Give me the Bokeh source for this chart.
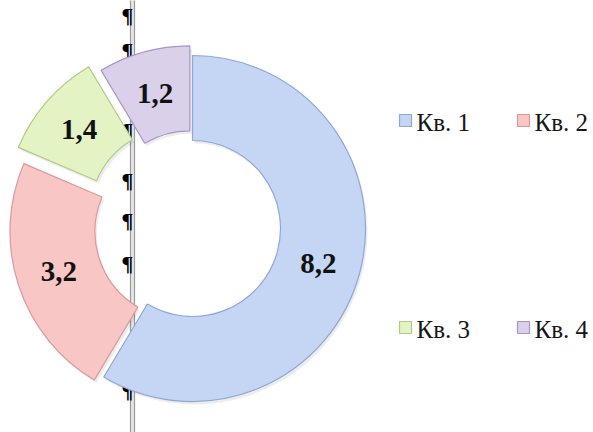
import numpy as np
from bokeh.plotting import figure
from bokeh.models import Range1d, ColumnDataSource
from bokeh.core.properties import value
from bokeh.embed import file_html
from bokeh.resources import INLINE

# ---- data ----
categories = ["Кв. 1", "Кв. 2", "Кв. 3", "Кв. 4"]
values = [8.2, 3.2, 1.4, 1.2]
labels = ["8,2", "3,2", "1,4", "1,2"]

# ---- style ----
fills = ["#c4d6f4", "#f9c6c6", "#e4f3c4", "#dad0ea"]
lines = ["#8ca7d8", "#d89a9a", "#b0cb85", "#a696c8"]
explode = [0, 10, 20, 10]
R_OUT, R_IN = 173, 88

W, H = 593, 432
cx, cy = 192, 228  # donut centre, px from figure's top-left

p = figure(width=W, height=H, x_range=Range1d(-cx, W - cx), y_range=Range1d(-(H - cy), cy),
           output_backend="svg", toolbar_location=None, min_border=0,
           x_axis_location=None, y_axis_location=None)
p.grid.visible = False
p.outline_line_color = None
p.background_fill_color = "white"

# ---- word-processor artifacts (paragraph marks & column line) behind the chart ----
lx = -60
p.quad(left=[lx - 2], right=[lx + 2], bottom=[-H], top=[H], fill_color="#e6e6e6", line_color=None)
p.segment(x0=[lx - 2, lx + 2], y0=[-H, -H], x1=[lx - 2, lx + 2], y1=[H, H], line_color="#9a9a9a", line_width=1.2)
pil_y = [213, 178, 98, 48, 8, -35, -162]
p.text(x=[lx - 5] * len(pil_y), y=pil_y, text=["¶"] * len(pil_y), text_font=value("Liberation Serif"),
       text_font_style="bold", text_font_size="22px", text_align="center", text_baseline="middle",
       text_color="black")

# ---- donut ----
vals = np.array(values)
total = vals.sum()
cum = np.concatenate([[0], np.cumsum(vals)])
start = np.deg2rad(90 - cum[:-1] / total * 360)
end = np.deg2rad(90 - cum[1:] / total * 360)
mid = (start + end) / 2
ex = np.array(explode)
xs = ex * np.cos(mid)
ys = ex * np.sin(mid)

src = ColumnDataSource(dict(x=xs, y=ys, sx=xs + 2, sy=ys - 3, start=start, end=end, fill=fills, line=lines,
                            lx=xs + (R_IN + R_OUT) / 2 * np.cos(mid),
                            ly=ys + (R_IN + R_OUT) / 2 * np.sin(mid), label=labels))
# soft shadow
p.annular_wedge(x="sx", y="sy", inner_radius=R_IN, outer_radius=R_OUT, start_angle="start",
                end_angle="end", direction="clock", source=src, fill_color="#000000", fill_alpha=0.07,
                line_color=None)
p.annular_wedge(x="x", y="y", inner_radius=R_IN, outer_radius=R_OUT, start_angle="start",
                end_angle="end", direction="clock", source=src, fill_color="fill", line_color="line",
                line_width=1.2)
p.text(x="lx", y="ly", text="label", source=src, text_font=value("Liberation Serif"),
       text_font_style="bold", text_font_size="29px", text_align="center", text_baseline="middle",
       text_color="#111111")

# ---- legend (two rows, two items each) ----
leg_x = [213, 331, 213, 331]
leg_y = [108, 108, -99, -99]
p.rect(x=leg_x, y=leg_y, width=12, height=12, fill_color=fills, line_color=lines, line_width=1.2)
p.text(x=[x + 11 for x in leg_x], y=[y - 2 for y in leg_y], text=categories,
       text_font=value("Liberation Serif"), text_font_size="25px", text_align="left",
       text_baseline="middle", text_color="#151515")

open("out.html", "w").write(file_html(p, INLINE))
